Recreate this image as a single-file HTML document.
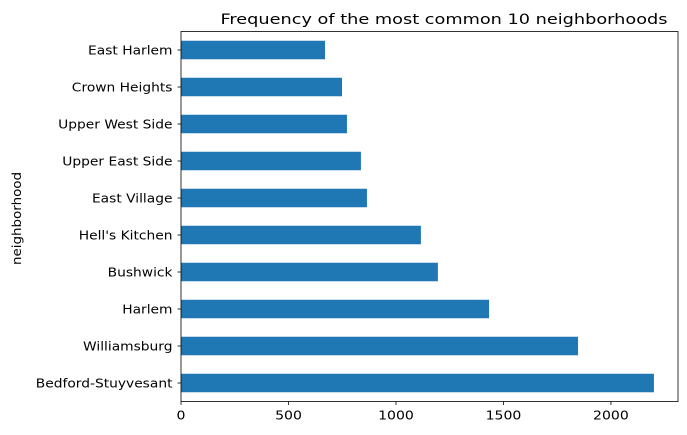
<!DOCTYPE html>
<html><head><meta charset="utf-8">
<style>
html,body{margin:0;padding:0;background:#fff;width:687px;height:435px;overflow:hidden}
text{font-family:"DejaVu Sans","Liberation Sans",sans-serif;fill:#000}
</style></head>
<body>
<svg id="chart" width="687" height="435" xmlns="http://www.w3.org/2000/svg">
<text id="title" x="444" y="24" font-size="14.4" text-anchor="middle">Frequency of the most common 10 neighborhoods</text>
<text id="ytitle" transform="translate(21,218.5) rotate(-90)" font-size="12" text-anchor="middle">neighborhood</text>
<g id="bars"></g>
<g id="axes"></g>
</svg>
<script>
const categories=["Bedford-Stuyvesant","Williamsburg","Harlem","Bushwick","Hell's Kitchen","East Village","Upper East Side","Upper West Side","Crown Heights","East Harlem"];
const counts=[2200,1847,1433,1195,1116,865,837,772,749,670];
const xTicks=[0,500,1000,1500,2000];
const L=181,R=678,T=31.5,B=401.5,XMAX=2312;
const NS="http://www.w3.org/2000/svg";
const x=v=>L+(v/XMAX)*(R-L);
const band=(B-T)/categories.length;
const yc=i=>B-band*(i+0.5);
const bars=document.getElementById('bars'),axes=document.getElementById('axes');
function mk(tag,attrs,parent){const e=document.createElementNS(NS,tag);for(const k in attrs)e.setAttribute(k,attrs[k]);parent.appendChild(e);return e;}
function widen(t,f){const w=t.getComputedTextLength();t.setAttribute('textLength',w*f);t.setAttribute('lengthAdjust','spacingAndGlyphs');}
categories.forEach((c,i)=>{
  const r=mk('rect',{x:x(0),y:yc(i)-band*0.25,width:x(counts[i])-x(0),height:band*0.5,fill:'#1f77b4'},bars);
  
  
  const tk=mk('line',{x1:L-3.5,x2:L,y1:yc(i),y2:yc(i),stroke:'#000','stroke-width':0.8},axes);
  
  
  const t=mk('text',{x:L-8.5,y:yc(i)+4.5,'font-size':12,'text-anchor':'end'},axes);
  t.textContent=' '+c;
  t.setAttribute('xml:space','preserve');
  
  
  widen(t,1.15);
});
xTicks.forEach(v=>{
  const tk=mk('line',{x1:x(v),x2:x(v),y1:B,y2:B+3.5,stroke:'#000','stroke-width':0.8},axes);
  
  
  const t=mk('text',{x:x(v),y:B+18,'font-size':12,'text-anchor':'middle'},axes);
  t.textContent=v;
  
  
  widen(t,1.17);
});
widen(document.getElementById('title'),1.23);
widen(document.getElementById('ytitle'),1.12);
const frame=mk('rect',{x:L,y:T,width:R-L,height:B-T,fill:'none',stroke:'#000','stroke-width':0.8},axes);


</script>
</body></html>
